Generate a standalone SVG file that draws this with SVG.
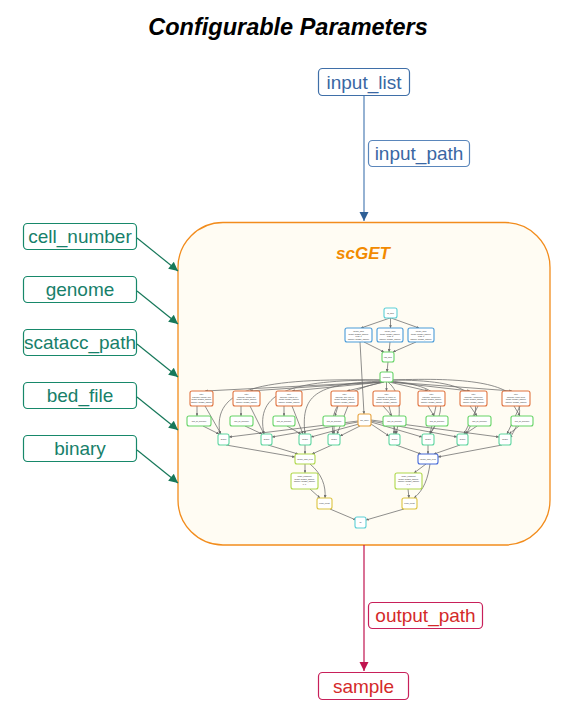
<svg xmlns="http://www.w3.org/2000/svg" width="578" height="718" viewBox="0 0 578 718">
<defs>
<marker id="ab" viewBox="0 0 10 10" refX="10" refY="5" markerWidth="9" markerHeight="12" markerUnits="userSpaceOnUse" orient="auto"><path d="M0,0 L10,5 L0,10 z" fill="#2e5f96"/></marker>
<marker id="ag" viewBox="0 0 10 10" refX="10" refY="5" markerWidth="12" markerHeight="9" markerUnits="userSpaceOnUse" orient="auto"><path d="M0,0 L10,5 L0,10 z" fill="#17785a"/></marker>
<marker id="ar" viewBox="0 0 10 10" refX="10" refY="5" markerWidth="9" markerHeight="12" markerUnits="userSpaceOnUse" orient="auto"><path d="M0,0 L10,5 L0,10 z" fill="#c0134f"/></marker>
<marker id="as" viewBox="0 0 10 10" refX="10" refY="5" markerWidth="2.8" markerHeight="2.8" markerUnits="userSpaceOnUse" orient="auto"><path d="M0,0 L10,5 L0,10 z" fill="#6a6a6a"/></marker>
</defs>
<style>
.t{font-family:"Liberation Sans",Arial,sans-serif}
.pg rect{fill:#fff;stroke:#17886a;stroke-width:1.2}
.pg text{fill:#17806a;font-size:19px;text-anchor:middle}
.e{fill:none;stroke:#6a6a6a;stroke-width:0.75;marker-end:url(#as)}
.n rect{fill:#fff;stroke-width:1.1}
.n text{font-size:2px;fill:#333;text-anchor:middle;font-family:"Liberation Sans",Arial,sans-serif}
.cy{stroke:#5ccfd6}.bl{stroke:#4a9bd8}.gr{stroke:#66d466}.or{stroke:#e0733f}.oy{stroke:#e8a23c}.tl{stroke:#5ed6a0}.yg{stroke:#b0d84a}.db{stroke:#4468d8}.ye{stroke:#dcc440}
</style>
<rect width="578" height="718" fill="#fff"/>
<text class="t" x="288" y="35" font-size="23.5" font-weight="bold" font-style="italic" text-anchor="middle" fill="#000">Configurable Parameters</text>

<g id="scGET">
<rect x="178" y="222.5" width="372" height="322.5" rx="45" fill="#fffcf3" stroke="#f28c1c" stroke-width="1.3"/>
<text class="t" x="363" y="259" font-size="17" font-weight="bold" font-style="italic" text-anchor="middle" fill="#f28a00">scGET</text>
</g>

<g id="inner-edges">
<path class="e" d="M390,318 L361,328"/>
<path class="e" d="M390.5,318 L390.5,328"/>
<path class="e" d="M391,318 L419,328"/>
<path class="e" d="M364,342 L384,352"/>
<path class="e" d="M390,342 L389,352"/>
<path class="e" d="M416,342 L393,352"/>
<path class="e" d="M388,362 L387,372"/>
<path class="e" d="M360,342 L364,414"/>
<path class="e" d="M381,382 L205,391"/>
<path class="e" d="M382,382 L250,391"/>
<path class="e" d="M383,382 L292,391"/>
<path class="e" d="M384,382 L347,391"/>
<path class="e" d="M386.5,382 L386.5,391"/>
<path class="e" d="M389,382 L428,391"/>
<path class="e" d="M391,382 L470,391"/>
<path class="e" d="M392,382 L512,391"/>
<path class="e" d="M381,380 C260,378 212,388 220,434"/>
<path class="e" d="M382,380 C290,380 255,392 264,434"/>
<path class="e" d="M383,381 C320,384 300,392 305,434"/>
<path class="e" d="M384,382 C355,388 328,398 333,434"/>
<path class="e" d="M388,382 C400,392 402,410 396,434"/>
<path class="e" d="M390,381 C440,386 452,400 430,434"/>
<path class="e" d="M391,380 C470,380 490,395 466,434"/>
<path class="e" d="M392,380 C500,376 540,390 510,438"/>
<path class="e" d="M197,406 L197,416"/>
<path class="e" d="M205,406 L221,434"/>
<path class="e" d="M241,406 L241,416"/>
<path class="e" d="M250,406 L264,434"/>
<path class="e" d="M284,406 L284,416"/>
<path class="e" d="M292,406 L303,434"/>
<path class="e" d="M338,406 L335,416"/>
<path class="e" d="M348,406 L337,434"/>
<path class="e" d="M383,406 L392,416"/>
<path class="e" d="M389,406 L396,434"/>
<path class="e" d="M428,406 L434,416"/>
<path class="e" d="M436,406 L430,434"/>
<path class="e" d="M470,406 L477,416"/>
<path class="e" d="M478,406 L464,434"/>
<path class="e" d="M514,406 L520,416"/>
<path class="e" d="M520,406 L507,434"/>
<path class="e" d="M203,426 L219,434"/>
<path class="e" d="M245,426 L262,434"/>
<path class="e" d="M287,426 L301,434"/>
<path class="e" d="M334,426 L334,434"/>
<path class="e" d="M394,426 L394,434"/>
<path class="e" d="M435,426 L430,434"/>
<path class="e" d="M477,426 L465,434"/>
<path class="e" d="M519,426 L509,434"/>
<path class="e" d="M358,421 L229,437"/>
<path class="e" d="M358,422 L272,437"/>
<path class="e" d="M359,424 L311,437"/>
<path class="e" d="M360,426 L340,436"/>
<path class="e" d="M371,424 L389,436"/>
<path class="e" d="M371,422 L422,437"/>
<path class="e" d="M371,421 L457,437"/>
<path class="e" d="M371,420 L499,437"/>
<path class="e" d="M226,445 L295,457"/>
<path class="e" d="M268,445 L298,454"/>
<path class="e" d="M305,445 L305,454"/>
<path class="e" d="M332,445 L312,454"/>
<path class="e" d="M396,445 L421,454"/>
<path class="e" d="M428,445 L428,454"/>
<path class="e" d="M460,445 L434,454"/>
<path class="e" d="M502,445 L438,457"/>
<path class="e" d="M305,464 L305,473"/>
<path class="e" d="M310,464 C322,474 326,486 325,498"/>
<path class="e" d="M310,489 L320,498"/>
<path class="e" d="M426,464 L414,473"/>
<path class="e" d="M430,464 C428,478 424,490 414,498"/>
<path class="e" d="M408,489 L409,498"/>
<path class="e" d="M330,509 L356,520"/>
<path class="e" d="M404,509 L366,520"/>
</g>

<g id="inner-nodes">
<g class="n" id="n-top"><rect class="cy" x="384" y="308" width="13" height="10" rx="2"/><text x="390.5" y="314">fq_bam</text></g>
<g class="n" id="n-b1"><rect class="bl" x="345" y="328" width="27" height="14" rx="2"/><text x="358.5" y="332">merge_bam</text><text x="358.5" y="334.5">target: scGET_sample</text><text x="358.5" y="337">read: 1</text><text x="358.5" y="339.5">sample: scGET_sample</text></g>
<g class="n" id="n-b2"><rect class="bl" x="377" y="328" width="26" height="14" rx="2"/><text x="390" y="332">merge_bam</text><text x="390" y="334.5">target: scGET_sample</text><text x="390" y="337">read: 2</text><text x="390" y="339.5">sample: scGET_sample</text></g>
<g class="n" id="n-b3"><rect class="bl" x="408" y="328" width="26" height="14" rx="2"/><text x="421" y="332">merge_bam</text><text x="421" y="334.5">target: scGET_sample</text><text x="421" y="337">read: 3</text><text x="421" y="339.5">sample: scGET_sample</text></g>
<g class="n" id="n-tag"><rect class="gr" x="382" y="352" width="12" height="10" rx="2"/><text x="388" y="358">tag_bam</text></g>
<g class="n" id="n-cp"><rect class="gr" x="380" y="372" width="13" height="10" rx="2"/><text x="386.5" y="378">compute</text></g>

<g class="n" id="n-o1"><rect class="or" x="190" y="391" width="23" height="15" rx="2"/><text x="201.5" y="395">filter</text><text x="201.5" y="397.5">barcode: TCGGACG</text><text x="201.5" y="400">target: scGET_sample</text><text x="201.5" y="402.5">sample: scGET_sample</text></g>
<g class="n" id="n-o2"><rect class="or" x="233" y="391" width="27" height="15" rx="2"/><text x="246.5" y="395">filter</text><text x="246.5" y="397.5">barcode: TCGGACT</text><text x="246.5" y="400">target: scGET_sample</text><text x="246.5" y="402.5">sample: scGET_sample</text></g>
<g class="n" id="n-o3"><rect class="or" x="276" y="391" width="26" height="15" rx="2"/><text x="289" y="395">filter</text><text x="289" y="397.5">barcode: TCGGACA</text><text x="289" y="400">target: scGET_sample</text><text x="289" y="402.5">sample: scGET_sample</text></g>
<g class="n" id="n-o4"><rect class="or" x="331" y="391" width="27" height="15" rx="2"/><text x="344.5" y="395">filter</text><text x="344.5" y="397.5">barcode: GGAGTAC</text><text x="344.5" y="400">target: scGET_sample</text><text x="344.5" y="402.5">sample: scGET_sample</text></g>
<g class="n" id="n-o5"><rect class="or" x="373" y="391" width="27" height="15" rx="2"/><text x="386.5" y="395">filter</text><text x="386.5" y="397.5">barcode: TAGGCAG</text><text x="386.5" y="400">target: scGET_sample</text><text x="386.5" y="402.5">sample: scGET_sample</text></g>
<g class="n" id="n-o6"><rect class="or" x="418" y="391" width="27" height="15" rx="2"/><text x="431.5" y="395">filter</text><text x="431.5" y="397.5">barcode: CTGCTCT</text><text x="431.5" y="400">target: scGET_sample</text><text x="431.5" y="402.5">sample: scGET_sample</text></g>
<g class="n" id="n-o7"><rect class="or" x="460" y="391" width="27" height="15" rx="2"/><text x="473.5" y="395">filter</text><text x="473.5" y="397.5">barcode: AGGCTTG</text><text x="473.5" y="400">target: scGET_sample</text><text x="473.5" y="402.5">sample: scGET_sample</text></g>
<g class="n" id="n-o8"><rect class="or" x="502" y="391" width="28" height="15" rx="2"/><text x="516" y="395">filter</text><text x="516" y="397.5">barcode: TCGACTG</text><text x="516" y="400">target: scGET_sample</text><text x="516" y="402.5">sample: scGET_sample</text></g>

<g class="n" id="n-r1"><rect class="gr" x="187" y="416" width="24" height="10" rx="2"/><text x="199" y="421.7">raw_sc_genome</text></g>
<g class="n" id="n-r2"><rect class="gr" x="230" y="416" width="23" height="10" rx="2"/><text x="241.5" y="421.7">raw_sc_genome</text></g>
<g class="n" id="n-r3"><rect class="gr" x="273" y="416" width="22" height="10" rx="2"/><text x="284" y="421.7">raw_sc_genome</text></g>
<g class="n" id="n-r4"><rect class="gr" x="323" y="416" width="22" height="10" rx="2"/><text x="334" y="421.7">raw_sc_genome</text></g>
<g class="n" id="n-sm"><rect class="oy" x="358" y="414" width="13" height="12" rx="2"/><text x="364.5" y="420.7">sm_index</text></g>
<g class="n" id="n-r5"><rect class="gr" x="383" y="416" width="23" height="10" rx="2"/><text x="394.5" y="421.7">raw_sc_genome</text></g>
<g class="n" id="n-r6"><rect class="gr" x="426" y="416" width="22" height="10" rx="2"/><text x="437" y="421.7">raw_sc_genome</text></g>
<g class="n" id="n-r7"><rect class="gr" x="468" y="416" width="23" height="10" rx="2"/><text x="479.5" y="421.7">raw_sc_genome</text></g>
<g class="n" id="n-r8"><rect class="gr" x="511" y="416" width="22" height="10" rx="2"/><text x="522" y="421.7">raw_sc_genome</text></g>

<g class="n" id="n-m1"><rect class="tl" x="218" y="434" width="11" height="11" rx="2"/><text x="223.5" y="440.2">dedup</text></g>
<g class="n" id="n-m2"><rect class="tl" x="261" y="434" width="11" height="11" rx="2"/><text x="266.5" y="440.2">dedup</text></g>
<g class="n" id="n-m3"><rect class="tl" x="299" y="434" width="12" height="11" rx="2"/><text x="305" y="440.2">dedup</text></g>
<g class="n" id="n-m4"><rect class="tl" x="328" y="434" width="12" height="11" rx="2"/><text x="334" y="440.2">dedup</text></g>
<g class="n" id="n-m5"><rect class="tl" x="389" y="434" width="11" height="11" rx="2"/><text x="394.5" y="440.2">dedup</text></g>
<g class="n" id="n-m6"><rect class="tl" x="422" y="434" width="12" height="11" rx="2"/><text x="428" y="440.2">dedup</text></g>
<g class="n" id="n-m7"><rect class="tl" x="457" y="434" width="11" height="11" rx="2"/><text x="462.5" y="440.2">dedup</text></g>
<g class="n" id="n-m8"><rect class="tl" x="499" y="434" width="12" height="11" rx="2"/><text x="505" y="440.2">dedup</text></g>

<g class="n" id="n-ml"><rect class="yg" x="295" y="454" width="20" height="10" rx="2"/><text x="305" y="459.7">merge_sam_cells</text></g>
<g class="n" id="n-mr"><rect class="db" x="418" y="454" width="20" height="10" rx="2"/><text x="428" y="459.7">merge_sam_cells</text></g>
<g class="n" id="n-yl"><rect class="yg" x="291" y="473" width="27" height="16" rx="2"/><text x="304.5" y="477">make_fragment</text><text x="304.5" y="479.5">target: scGET_sample</text><text x="304.5" y="482">sample: scGET_sample</text><text x="304.5" y="484.5">n: 1</text></g>
<g class="n" id="n-yr"><rect class="yg" x="395" y="473" width="27" height="16" rx="2"/><text x="408.5" y="477">make_fragment</text><text x="408.5" y="479.5">target: scGET_sample</text><text x="408.5" y="482">sample: scGET_sample</text><text x="408.5" y="484.5">n: 1</text></g>
<g class="n" id="n-zl"><rect class="ye" x="317" y="498" width="15" height="11" rx="2"/><text x="324.5" y="504.2">peak_count</text></g>
<g class="n" id="n-zr"><rect class="ye" x="402" y="498" width="15" height="11" rx="2"/><text x="409.5" y="504.2">peak_count</text></g>
<g class="n" id="n-all"><rect class="cy" x="355" y="517" width="11" height="11" rx="2"/><text x="360.5" y="523.2">all</text></g>
</g>

<g id="connectors">
<line x1="364" y1="95" x2="364" y2="221" stroke="#4f7fb5" stroke-width="1.2" marker-end="url(#ab)"/>
<line x1="364" y1="545" x2="364" y2="671" stroke="#c0134f" stroke-width="1.2" marker-end="url(#ar)"/>
<line x1="137" y1="238" x2="178" y2="271" stroke="#17785a" stroke-width="1.2" marker-end="url(#ag)"/>
<line x1="137" y1="291" x2="178" y2="324" stroke="#17785a" stroke-width="1.2" marker-end="url(#ag)"/>
<line x1="137" y1="344" x2="178" y2="377" stroke="#17785a" stroke-width="1.2" marker-end="url(#ag)"/>
<line x1="137" y1="397" x2="178" y2="430" stroke="#17785a" stroke-width="1.2" marker-end="url(#ag)"/>
<line x1="137" y1="450" x2="178" y2="483" stroke="#17785a" stroke-width="1.2" marker-end="url(#ag)"/>
<g id="label-input_path"><rect x="368.5" y="140.5" width="101" height="26" rx="4" fill="#fff" stroke="#5a86bb" stroke-width="1.2"/><text class="t" x="419" y="159.5" font-size="19" text-anchor="middle" fill="#3a67a3">input_path</text></g>
<g id="label-output_path"><rect x="368.5" y="602.5" width="114" height="26" rx="4" fill="#fff" stroke="#c8205a" stroke-width="1.2"/><text class="t" x="425.5" y="621.5" font-size="19" text-anchor="middle" fill="#d42a2a">output_path</text></g>
</g>

<g id="input_list"><rect x="318.5" y="68.5" width="91" height="27" rx="4" fill="#fff" stroke="#3f6fa8" stroke-width="1.2"/><text class="t" x="364" y="88.5" font-size="19" text-anchor="middle" fill="#3a67a3">input_list</text></g>
<g id="sample"><rect x="318.5" y="672.5" width="90" height="27" rx="4" fill="#fff" stroke="#c8205a" stroke-width="1.2"/><text class="t" x="363.5" y="692.5" font-size="19" text-anchor="middle" fill="#d42a2a">sample</text></g>

<g id="cell_number" class="pg t"><rect x="23.5" y="223.5" width="113" height="26" rx="4"/><text x="80" y="243">cell_number</text></g>
<g id="genome" class="pg t"><rect x="23.5" y="276.5" width="113" height="26" rx="4"/><text x="80" y="296">genome</text></g>
<g id="scatacc_path" class="pg t"><rect x="23.5" y="329.5" width="113" height="26" rx="4"/><text x="80" y="349">scatacc_path</text></g>
<g id="bed_file" class="pg t"><rect x="23.5" y="382.5" width="113" height="26" rx="4"/><text x="80" y="402">bed_file</text></g>
<g id="binary" class="pg t"><rect x="23.5" y="435.5" width="113" height="26" rx="4"/><text x="80" y="455">binary</text></g>
</svg>
